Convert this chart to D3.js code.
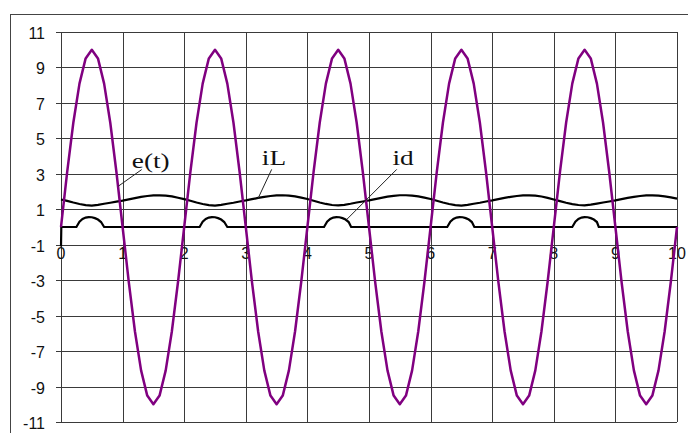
<!DOCTYPE html>
<html>
<head>
<meta charset="utf-8">
<script src="https://cdn.jsdelivr.net/npm/d3@7"></script>
<style>
  body { margin: 0; background: #fff; }
  text { font-family: "Liberation Sans", Arial, sans-serif; }
</style>
</head>
<body>
<div id="chart"></div>
<script>
// time axis, step 0.1 from 0 to 10
var tValues = d3.range(0, 101).map(function(i) { return i / 10; });

// e(t)
var eValues = [
  0, 3.09, 5.88, 8.09, 9.51, 10, 9.51, 8.09, 5.88, 3.09,
  0, -3.09, -5.88, -8.09, -9.51, -10, -9.51, -8.09, -5.88, -3.09,
  0, 3.09, 5.88, 8.09, 9.51, 10, 9.51, 8.09, 5.88, 3.09,
  0, -3.09, -5.88, -8.09, -9.51, -10, -9.51, -8.09, -5.88, -3.09,
  0, 3.09, 5.88, 8.09, 9.51, 10, 9.51, 8.09, 5.88, 3.09,
  0, -3.09, -5.88, -8.09, -9.51, -10, -9.51, -8.09, -5.88, -3.09,
  0, 3.09, 5.88, 8.09, 9.51, 10, 9.51, 8.09, 5.88, 3.09,
  0, -3.09, -5.88, -8.09, -9.51, -10, -9.51, -8.09, -5.88, -3.09,
  0, 3.09, 5.88, 8.09, 9.51, 10, 9.51, 8.09, 5.88, 3.09,
  0, -3.09, -5.88, -8.09, -9.51, -10, -9.51, -8.09, -5.88, -3.09,
  0
];

// iL, same time steps
var iLValues = [
  1.55, 1.47, 1.38, 1.30, 1.23, 1.21, 1.25, 1.31, 1.37, 1.43,
  1.49, 1.56, 1.63, 1.70, 1.75, 1.78, 1.78, 1.77, 1.73, 1.65,
  1.57, 1.48, 1.38, 1.30, 1.23, 1.21, 1.25, 1.31, 1.37, 1.44,
  1.50, 1.57, 1.64, 1.70, 1.75, 1.78, 1.79, 1.77, 1.73, 1.66,
  1.58, 1.48, 1.38, 1.30, 1.24, 1.22, 1.25, 1.31, 1.38, 1.44,
  1.50, 1.57, 1.64, 1.71, 1.76, 1.79, 1.79, 1.77, 1.73, 1.66,
  1.58, 1.48, 1.38, 1.30, 1.23, 1.21, 1.25, 1.31, 1.37, 1.44,
  1.50, 1.57, 1.64, 1.70, 1.75, 1.78, 1.78, 1.77, 1.72, 1.64,
  1.55, 1.46, 1.37, 1.29, 1.24, 1.22, 1.26, 1.32, 1.38, 1.44,
  1.50, 1.57, 1.64, 1.70, 1.75, 1.78, 1.78, 1.77, 1.73, 1.67,
  1.60
];

// id, only where it changes
var idT = [
  0, 0.005,
  0.25, 0.3, 0.35, 0.4, 0.45, 0.5, 0.55, 0.6, 0.65, 0.7,
  2.25, 2.3, 2.35, 2.4, 2.45, 2.5, 2.55, 2.6, 2.65, 2.7,
  4.27, 4.32, 4.37, 4.42, 4.47, 4.52, 4.57, 4.62, 4.67, 4.71,
  6.27, 6.32, 6.37, 6.42, 6.47, 6.52, 6.57, 6.62, 6.67, 6.71,
  8.3, 8.35, 8.4, 8.45, 8.5, 8.55, 8.6, 8.65, 8.7, 8.73,
  10
];
var idV = [
  -1.1, 0,
  0, 0.3, 0.45, 0.53, 0.56, 0.55, 0.5, 0.42, 0.28, 0,
  0, 0.3, 0.45, 0.53, 0.56, 0.55, 0.5, 0.42, 0.28, 0,
  0, 0.3, 0.45, 0.53, 0.56, 0.55, 0.5, 0.42, 0.28, 0,
  0, 0.3, 0.45, 0.53, 0.56, 0.55, 0.5, 0.42, 0.28, 0,
  0, 0.3, 0.45, 0.53, 0.56, 0.55, 0.5, 0.42, 0.28, 0,
  0
];

var xTicks = [0, 1, 2, 3, 4, 5, 6, 7, 8, 9, 10];
var yTicks = [-11, -9, -7, -5, -3, -1, 1, 3, 5, 7, 9, 11];

// callout labels: text anchor point and leader line, in data units
var noteLabels = ["e(t)", "iL", "id"];
var noteText = [[1.15, 3.33], [3.26, 3.5], [5.38, 3.5]];
var noteFrom = [[1.31, 3.24], [3.42, 3.25], [5.45, 3.25]];
var noteTo = [[0.93, 2.3], [3.2, 1.62], [4.64, 0.43]];

var W = 688, H = 433;
var margin = {top: 32, right: 11, bottom: 11, left: 61},
    width = W - margin.left - margin.right,
    height = H - margin.top - margin.bottom;

var svg = d3.select("#chart")
    .append("svg")
    .attr("width", W)
    .attr("height", H);

// outer chart frame
svg.append("rect")
    .attr("x", 10.5)
    .attr("y", 14.5)
    .attr("width", 720)
    .attr("height", 460)
    .attr("fill", "none")
    .attr("stroke", "#444")
    .attr("stroke-width", 1);

var g = svg.append("g")
    .attr("transform", "translate(" + margin.left + "," + margin.top + ")");

var x = d3.scaleLinear().domain([0, 10]).range([0, width]);
var y = d3.scaleLinear().domain([-11, 11]).range([height, 0]);

// grid
g.append("g").selectAll("line")
    .data(yTicks)
    .enter().append("line")
    .attr("x1", -5).attr("x2", width)
    .attr("y1", function(d) { return Math.round(y(d)) + 0.5; })
    .attr("y2", function(d) { return Math.round(y(d)) + 0.5; })
    .attr("stroke", "#3a3a3a").attr("stroke-width", 1);

g.append("g").selectAll("line")
    .data(xTicks)
    .enter().append("line")
    .attr("y1", 0).attr("y2", height)
    .attr("x1", function(d) { return Math.round(x(d)) + 0.5; })
    .attr("x2", function(d) { return Math.round(x(d)) + 0.5; })
    .attr("stroke", "#3a3a3a").attr("stroke-width", 1);

// y labels
g.append("g").selectAll("text")
    .data(yTicks)
    .enter().append("text")
    .attr("x", -16)
    .attr("y", function(d) { return y(d) + 7; })
    .attr("text-anchor", "end")
    .attr("font-size", 16)
    .attr("fill", "#111")
    .text(function(d) { return d; });

// x labels sit just under the -1 line
g.append("g").selectAll("text")
    .data(xTicks)
    .enter().append("text")
    .attr("x", function(d) { return x(d); })
    .attr("y", y(-1) + 14)
    .attr("text-anchor", "middle")
    .attr("font-size", 16)
    .attr("fill", "#111")
    .text(function(d) { return d; });

// id
var idPts = idT.map(function(t, i) { return [t, idV[i]]; });
g.append("path")
    .datum(idPts)
    .attr("fill", "none")
    .attr("stroke", "#000")
    .attr("stroke-width", 2.2)
    .attr("d", d3.line()
      .x(function(d) { return x(d[0]); })
      .y(function(d) { return y(d[1]); }));

// iL
g.append("path")
    .datum(tValues.map(function(t, i) { return [t, iLValues[i]]; }))
    .attr("fill", "none")
    .attr("stroke", "#000")
    .attr("stroke-width", 2.2)
    .attr("d", d3.line()
      .x(function(d) { return x(d[0]); })
      .y(function(d) { return y(d[1]); }));

// e(t)
g.append("path")
    .datum(tValues.map(function(t, i) { return [t, eValues[i]]; }))
    .attr("fill", "none")
    .attr("stroke", "#800080")
    .attr("stroke-width", 2.5)
    .attr("stroke-linejoin", "round")
    .attr("d", d3.line()
      .x(function(d) { return x(d[0]); })
      .y(function(d) { return y(d[1]); }));

// callouts
noteLabels.forEach(function(lbl, i) {
  g.append("line")
    .attr("x1", x(noteFrom[i][0])).attr("y1", y(noteFrom[i][1]))
    .attr("x2", x(noteTo[i][0])).attr("y2", y(noteTo[i][1]))
    .attr("stroke", "#222").attr("stroke-width", 1);
  g.append("text")
    .attr("transform", "translate(" + x(noteText[i][0]) + "," + y(noteText[i][1]) + ") scale(1.3,1)")
    .style("font-family", "'Liberation Serif', 'Times New Roman', serif")
    .attr("font-size", 21)
    .attr("fill", "#111")
    .text(lbl);
});
</script>
</body>
</html>
